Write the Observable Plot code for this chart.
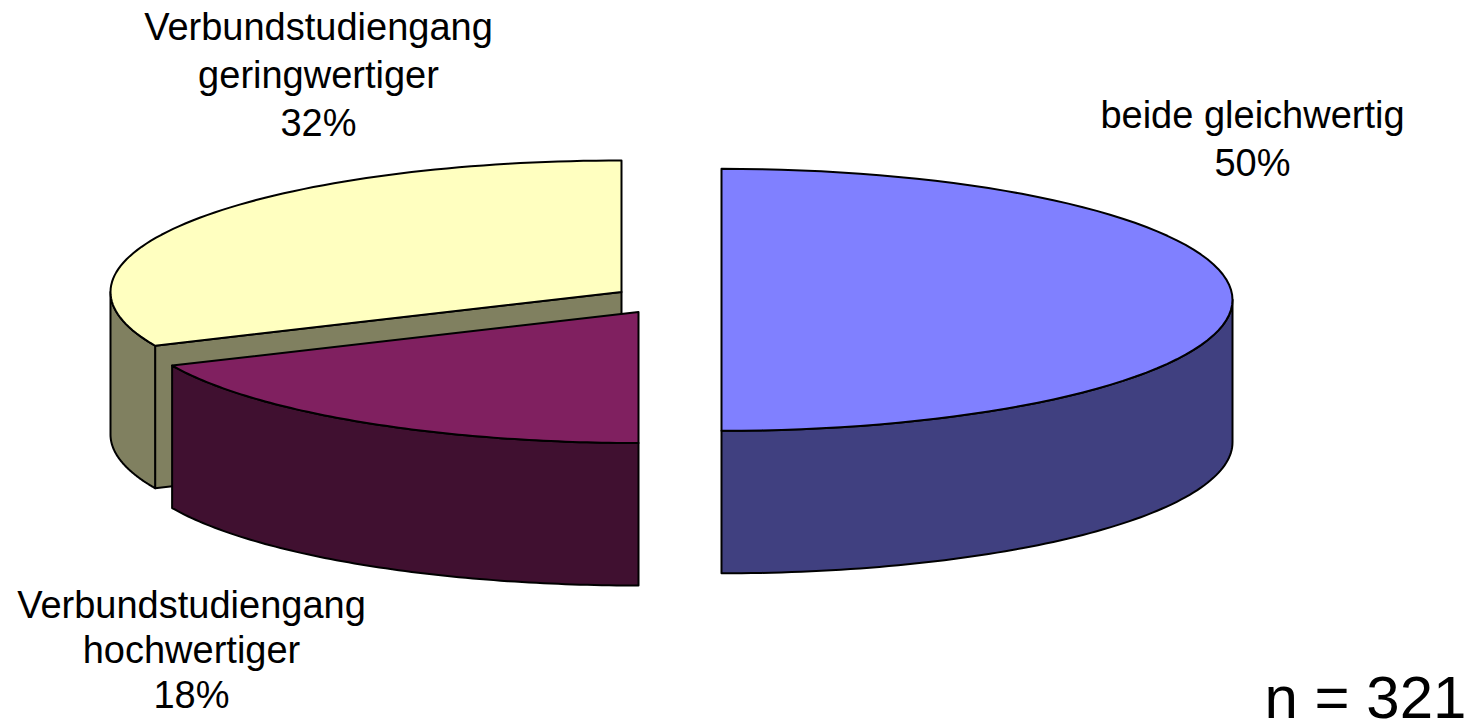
<!DOCTYPE html>
<html>
<head>
<meta charset="utf-8">
<script src="https://cdn.jsdelivr.net/npm/d3@7"></script>
<script src="https://cdn.jsdelivr.net/npm/@observablehq/plot@0.6"></script>
<style>
html,body{margin:0;padding:0;background:#fff;}
svg{display:block;}
</style>
</head>
<body>
<div id="chart"></div>
<script>
// Data
const categories = ["beide gleichwertig", "Verbundstudiengang hochwertiger", "Verbundstudiengang geringwertiger"];
const shares = [50, 18.3, 31.7];
const percentLabels = ["50%", "18%", "32%"];
const sampleSize = "n = 321";

// Layout of the exploded 3D pie
const rx = 511, depth = 142.5;
const centers = [[721, 299.3, 131], [638, 311.5, 131], [621, 291.5, 131.5]];
const topColors = ["#8080FF", "#802060", "#FFFFC0"];
const sideColors = ["#404080", "#401030", "#808060"];
const labelLines = [
  [["beide gleichwertig", 1252, 115], ["50%", 1252, 163]],
  [["Verbundstudiengang", 191, 605], ["hochwertiger", 191, 650], ["18%", 191, 695]],
  [["Verbundstudiengang", 318, 27], ["geringwertiger", 318, 75], ["32%", 318, 123]]
];

// Slice angles, clockwise from the top
let acc = 0;
const slices = shares.map((s, i) => {
  const a0 = acc / 100 * 2 * Math.PI;
  acc += s;
  return {i, a0, a1: acc / 100 * 2 * Math.PI, c: centers[i]};
});
const pt = (sl, a, dz = 0) => ({
  x: sl.c[0] + rx * Math.sin(a),
  y: sl.c[1] - sl.c[2] * Math.cos(a) + dz
});
const arc = (sl, a0, a1, dz = 0) =>
  d3.range(0, 81).map(k => pt(sl, a0 + (a1 - a0) * k / 80, dz));
const topFace = sl => [{x: sl.c[0], y: sl.c[1]}, ...arc(sl, sl.a0, sl.a1)];
const wallFace = (sl, a0, a1) => [...arc(sl, a0, a1), ...arc(sl, a1, a0, depth)];
const cutFace = (sl, a) => {
  const p = pt(sl, a), o = {x: sl.c[0], y: sl.c[1]};
  return [o, p, {x: p.x, y: p.y + depth}, {x: o.x, y: o.y + depth}];
};

const [blue, purple, yellow] = slices;
const poly = (pts, fill) => Plot.line(pts, {
  x: "x", y: "y", fill, stroke: "#000", strokeWidth: 2,
  curve: "linear-closed", strokeLinejoin: "round"
});
const textRows = slices.flatMap(sl => labelLines[sl.i]);

const chart = Plot.plot({
  width: 1477, height: 722,
  margin: 0,
  x: {domain: [0, 1477], range: [0, 1477], axis: null},
  y: {domain: [0, 722], range: [0, 722], axis: null},
  style: {background: "#fff"},
  marks: [
    poly(cutFace(yellow, yellow.a0), sideColors[2]),
    poly(wallFace(yellow, yellow.a0, 1.5 * Math.PI), sideColors[2]),
    poly(topFace(yellow), topColors[2]),
    poly(wallFace(purple, purple.a0, purple.a1), sideColors[1]),
    poly(topFace(purple), topColors[1]),
    poly(wallFace(blue, 0.5 * Math.PI, Math.PI), sideColors[0]),
    poly(topFace(blue), topColors[0]),
    Plot.text(textRows, {
      x: d => d[1], y: d => d[2], text: d => d[0],
      fontFamily: "Liberation Sans", fontSize: 38, fill: "#000",
      textAnchor: "middle", lineAnchor: "middle"
    }),
    Plot.text([sampleSize], {
      x: [1365], y: [698], text: d => d,
      fontFamily: "Liberation Sans", fontSize: 60, fill: "#000",
      textAnchor: "middle", lineAnchor: "middle"
    })
  ]
});
document.getElementById("chart").appendChild(chart);
</script>
</body>
</html>
